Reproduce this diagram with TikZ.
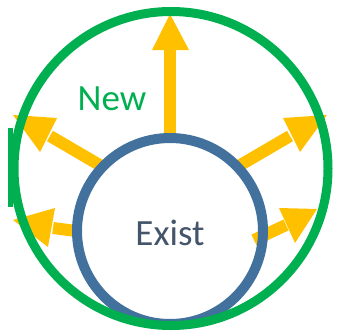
\documentclass[tikz,border=0pt]{standalone}
\usepackage{fontspec}
\setmainfont{Carlito}
\definecolor{pptgreen}{HTML}{00B050}
\definecolor{pptyellow}{HTML}{FFC000}
\definecolor{pptblue}{HTML}{41719C}
\definecolor{ppttext}{HTML}{44546A}
\begin{document}
\begin{tikzpicture}[x=1pt,y=-1pt,
  shaft/.style={draw=pptyellow,line width=12pt},
  head/.style={fill=pptyellow},
  ring/.style={circle,inner sep=0pt,draw},
  lbl/.style={anchor=base,font=\fontsize{37}{37}\selectfont}]
\useasboundingbox (0,0) rectangle (337,330);
% arrows
\coordinate (s1) at (170,138); \coordinate (b1) at (170,48);
\draw[shaft] (s1) -- (b1);
\fill[head] (170,14) -- (152,50) -- (189,50) -- cycle;
\coordinate (s2) at (103,167); \coordinate (b2) at (50,136);
\draw[shaft] (s2) -- (b2);
\fill[head] (13,115) -- (57,118) -- (40,152) -- cycle;
\coordinate (s3) at (237,167); \coordinate (b3) at (290,136);
\draw[shaft] (s3) -- (b3);
\fill[head] (327,115) -- (283,118) -- (300,152) -- cycle;
\coordinate (s4) at (76,231); \coordinate (b4) at (53,228);
\draw[shaft] (s4) -- (b4);
\fill[head] (13,220) -- (55,208) -- (48,247) -- cycle;
\coordinate (s5) at (254,240); \coordinate (b5) at (286,225);
\draw[shaft] (s5) -- (b5);
\fill[head] (317,209) -- (279,208) -- (295,243) -- cycle;
% rings
\node[ring,draw=pptblue,line width=10pt,minimum size=186pt] (exist) at (170,231) {};
\node[ring,draw=pptgreen,line width=9pt,minimum size=314pt] (new) at (171,168.5) {};
\fill[pptgreen] (8,128) rectangle (13,207);
% labels
\node[lbl,text=pptgreen] (newlbl) at (112,110) {New};
\node[lbl,text=ppttext] (existlbl) at (170,245) {Exist};
\end{tikzpicture}
\end{document}
